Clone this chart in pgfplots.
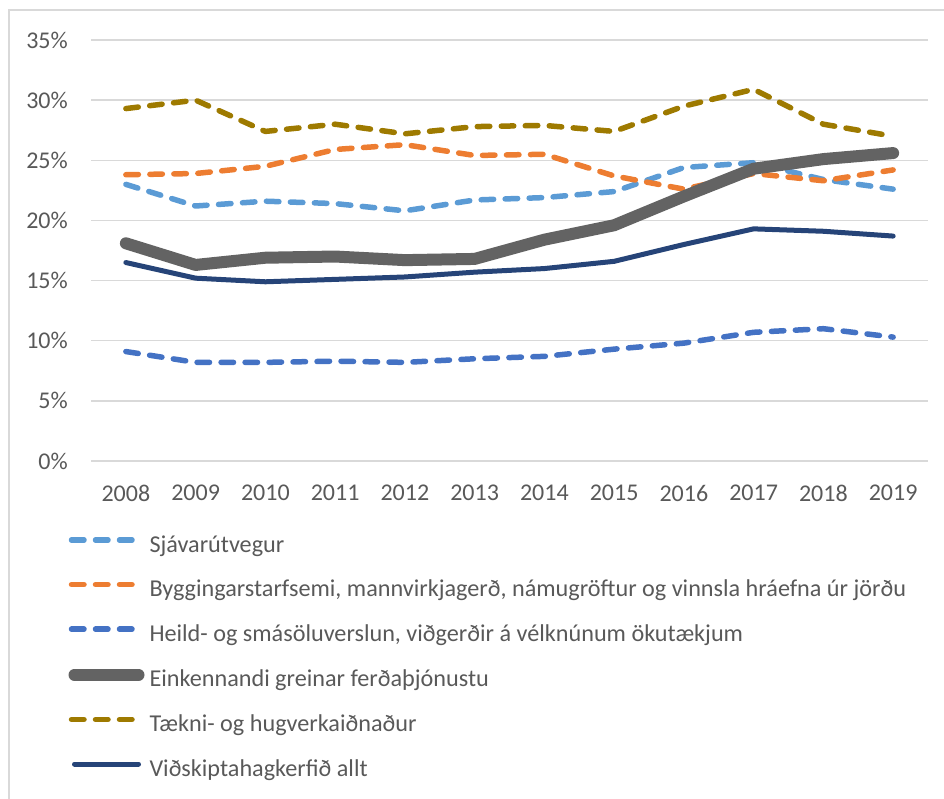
\documentclass[border=0pt]{standalone}
\usepackage{pgfplots}
\pgfplotsset{compat=1.18}
\usepackage{fontspec}
\setmainfont{Carlito}
\definecolor{txt}{HTML}{595959}
\definecolor{gridc}{HTML}{D9D9D9}
\definecolor{cSja}{HTML}{5B9BD5}
\definecolor{cByg}{HTML}{ED7D31}
\definecolor{cHei}{HTML}{4472C4}
\definecolor{cEin}{HTML}{636363}
\definecolor{cTae}{HTML}{9E7A00}
\definecolor{cVid}{HTML}{264478}
\begin{document}
\fontsize{24.2}{28}\selectfont
\begin{tikzpicture}
\begin{axis}[
  at={(91pt,-461pt)}, anchor=south west,
  scale only axis, width=837pt, height=421pt,
  xmin=-0.5, xmax=11.5, ymin=0, ymax=35,
  xtick={0,...,11},
  xticklabels={2008,2009,2010,2011,2012,2013,2014,2015,2016,2017,2018,2019},
  ytick={0,5,...,35},
  yticklabels={0\%,5\%,10\%,15\%,20\%,25\%,30\%,35\%},
  /pgf/number format/assume math mode=true,
  ticklabel style={font=\fontsize{24}{28}\selectfont, text=txt, inner sep=0pt},
  yticklabel style={anchor=east, xshift=-23pt},
  xticklabel style={anchor=north, yshift=-24pt},
  axis line style={draw=none},
  major tick style={draw=none},
  xmajorgrids=false,
  ymajorgrids=true,
  y grid style={color=gridc, line width=1.5pt},
  legend cell align=left,
  legend style={at={(axis description cs:0,0)}, anchor=north west,
    xshift=-22.5pt, yshift=-74pt, draw=none, fill=none, inner sep=0pt, outer sep=0pt,
    column sep=5pt, row sep=22.6pt,
    nodes={inner sep=0pt, text height=17pt, text depth=5pt, text=txt,
      font=\fontsize{24.2}{28}\selectfont}},
  every axis plot/.append style={line join=round},
  dsh/.style={line width=5.5pt, line cap=round, dash pattern=on 12.5pt off 11.5pt,
    legend image code/.code={\draw[##1, line width=5.5pt, line cap=round, dash pattern=on 12.5pt off 11.5pt] (0pt,6pt) -- (60.5pt,6pt);}},
  sld/.style={line cap=round,
    legend image code/.code={\draw[##1, line cap=round] (3pt,6pt) -- (67pt,6pt);}},
]
\addplot[dsh, cSja] coordinates {(0,23.0)(1,21.2)(2,21.6)(3,21.4)(4,20.8)(5,21.7)(6,21.9)(7,22.4)(8,24.4)(9,24.8)(10,23.4)(11,22.6)};
\addlegendentry{Sjávarútvegur}
\addplot[dsh, cByg] coordinates {(0,23.8)(1,23.9)(2,24.5)(3,25.9)(4,26.3)(5,25.4)(6,25.5)(7,23.7)(8,22.6)(9,23.9)(10,23.3)(11,24.2)};
\addlegendentry{Byggingarstarfsemi, mannvirkjagerð, námugröftur og vinnsla hráefna úr jörðu}
\addplot[dsh, cHei] coordinates {(0,9.1)(1,8.2)(2,8.2)(3,8.3)(4,8.2)(5,8.5)(6,8.7)(7,9.3)(8,9.8)(9,10.7)(10,11.0)(11,10.3)};
\addlegendentry{Heild- og smásöluverslun, viðgerðir á vélknúnum ökutækjum}
\addplot[sld, cEin, line width=12pt] coordinates {(0,18.1)(1,16.3)(2,16.9)(3,17.0)(4,16.7)(5,16.8)(6,18.4)(7,19.6)(8,22.0)(9,24.3)(10,25.1)(11,25.6)};
\addlegendentry{Einkennandi greinar ferðaþjónustu}
\addplot[dsh, cTae] coordinates {(0,29.3)(1,30.0)(2,27.4)(3,28.0)(4,27.2)(5,27.8)(6,27.9)(7,27.4)(8,29.5)(9,30.9)(10,28.0)(11,27.0)};
\addlegendentry{Tækni- og hugverkaiðnaður}
\addplot[sld, cVid, line width=5pt] coordinates {(0,16.5)(1,15.2)(2,14.9)(3,15.1)(4,15.3)(5,15.7)(6,16.0)(7,16.6)(8,18.0)(9,19.3)(10,19.1)(11,18.7)};
\addlegendentry{Viðskiptahagkerfið allt}
\end{axis}
\draw[gridc, line width=1.3pt] (9pt,-810pt) -- (9pt,-10pt) -- (960pt,-10pt);
\pgfresetboundingbox
\useasboundingbox (0pt,0pt) rectangle (944pt,-798pt);
\end{tikzpicture}
\end{document}
